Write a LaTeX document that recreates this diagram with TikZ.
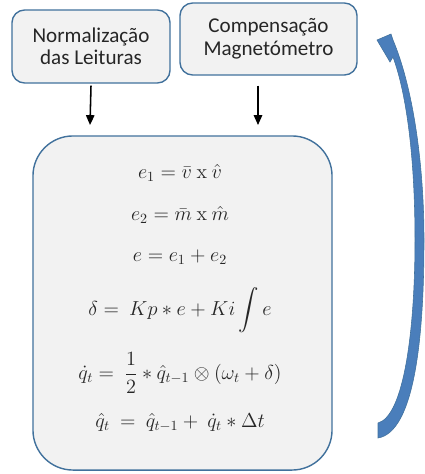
\documentclass[tikz,border=0pt]{standalone}
\usepackage{amsmath,amssymb}
\usepackage[no-math]{fontspec}
\setmainfont{Carlito}
\usetikzlibrary{arrows.meta}
\definecolor{boxline}{RGB}{65,113,156}
\definecolor{boxfill}{RGB}{242,242,242}
\definecolor{loopblue}{RGB}{74,126,187}

\begin{document}
\begin{tikzpicture}[
    x=0.025cm, y=-0.025cm,
    >={Triangle[length=7pt, width=6pt]},
    stagebox/.style={rectangle, rounded corners=9pt, draw=boxline, line width=1pt,
                fill=boxfill, align=center, font=\fontsize{15}{16}\selectfont,
                text=black!85},
    eqline/.style={font=\fontsize{14.5}{17}\selectfont, text=black!85},
    flow/.style={->, line width=1.1pt},
]
\useasboundingbox (0,0) rectangle (424,474);
% input stages
\node[stagebox, minimum width=3.95cm, minimum height=1.825cm] (norm) at (91,46.5)
    {Normaliza\c{c}\~ao\\das Leituras};
\node[stagebox, minimum width=4.425cm, minimum height=1.8cm] (comp) at (268.5,39)
    {Compensa\c{c}\~ao\\Magnet\'ometro};
% filter block
\node[stagebox, rounded corners=1cm, minimum width=7.475cm, minimum height=8.35cm]
    (filter) at (182.5,303) {};
\node[eqline] (eqA) at (180,173) {$e_1 = \bar{v}\ \mathrm{x}\ \hat{v}$};
\node[eqline] (eqB) at (180,215) {$e_2 = \bar{m}\ \mathrm{x}\ \hat{m}$};
\node[eqline] (eqC) at (180,257) {$e = e_1 + e_2$};
\node[eqline] (eqD) at (180,310) {$\displaystyle \delta = \ Kp * e + Ki \int e$};
\node[eqline] (eqE) at (180,373)
    {$\displaystyle \dot{q}_t = \ \frac{1}{2} * \hat{q}_{t-1} \otimes (\omega_t + \delta)$};
\node[eqline] (eqF) at (180,423) {$\hat{q}_t \ = \ \hat{q}_{t-1} + \ \dot{q}_t * \Delta t$};
\coordinate (inA) at (90,125);
\coordinate (inB) at (258,125);
\draw[flow] (norm.south) ++(0,2) -- (inA);
\draw[flow] (comp.south) ++(-10.5,10) -- (inB);
% feedback loop arrow
\fill[loopblue, draw=boxline, line width=0.4pt]
    (378,438) -- (378,423)
    .. controls (404,416) and (415,330) .. (415,240)
    .. controls (415,160) and (407,95) .. (393,57)
    -- (390,62) -- (377,40) -- (391,34) -- (393,40)
    .. controls (412,85) and (424,160) .. (424,240)
    .. controls (424,340) and (414,432) .. cycle;
\end{tikzpicture}
\end{document}
